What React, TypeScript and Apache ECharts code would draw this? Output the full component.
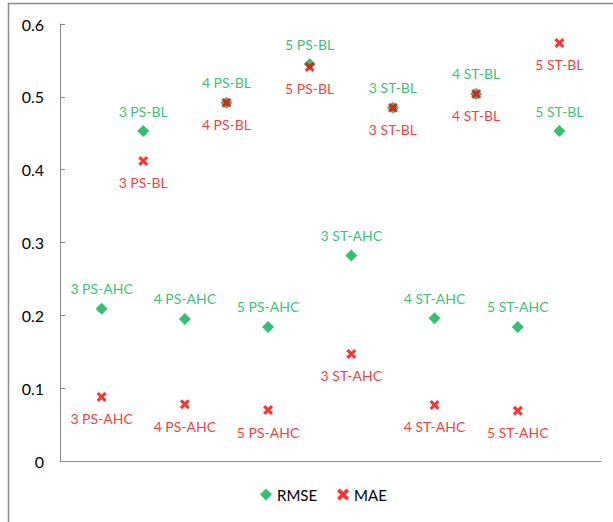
import React, { useEffect, useRef } from "react";
import * as echarts from "echarts";

const categories = [
  "3 PS-AHC", "3 PS-BL", "4 PS-AHC", "4 PS-BL", "5 PS-AHC", "5 PS-BL",
  "3 ST-AHC", "3 ST-BL", "4 ST-AHC", "4 ST-BL", "5 ST-AHC", "5 ST-BL",
];
const rmse = [0.209, 0.453, 0.195, 0.492, 0.184, 0.545, 0.282, 0.485, 0.196, 0.504, 0.184, 0.453];
const mae = [0.088, 0.412, 0.078, 0.492, 0.070, 0.541, 0.147, 0.485, 0.077, 0.504, 0.069, 0.574];
const yTicks = [0, 0.1, 0.2, 0.3, 0.4, 0.5, 0.6];

const CROSS = "path://M0,2.2 L2.2,0 L5,2.8 L7.8,0 L10,2.2 L7.2,5 L10,7.8 L7.8,10 L5,7.2 L2.2,10 L0,7.8 L2.8,5 Z";
const FONT = "Lato, 'Open Sans', sans-serif";

export default function App() {
  const ref = useRef<HTMLDivElement>(null);
  useEffect(() => {
    document.body.style.margin = "0";
    const chart = echarts.init(ref.current!, null, { renderer: "svg" });
    const mk = (vals: number[]) => vals.map((v, i) => [i + 1, v, categories[i]]);
    chart.setOption({
      animation: false,
      backgroundColor: "#fff",
      textStyle: { fontFamily: FONT },
      graphic: [
        {
          type: "rect",
          shape: { x: 8.5, y: 3.5, width: 700, height: 600 },
          style: { fill: "none", stroke: "#8c8c8c", lineWidth: 1.5 },
          silent: true,
        },
      ],
      grid: { left: 60, right: 12, top: 24, bottom: 61 },
      xAxis: {
        type: "value",
        min: 0,
        max: 13,
        axisLine: { show: true, onZero: false, lineStyle: { color: "#888", width: 1 } },
        axisTick: { show: false },
        axisLabel: { show: false },
        splitLine: { show: false },
      },
      yAxis: {
        type: "value",
        min: yTicks[0],
        max: yTicks[yTicks.length - 1],
        interval: 0.1,
        axisLine: { show: true, lineStyle: { color: "#888", width: 1 } },
        axisTick: { show: true, inside: true, length: 5, lineStyle: { color: "#888" } },
        axisLabel: {
          color: "#000",
          fontSize: 16,
          fontFamily: FONT,
          margin: 16,
          formatter: (v: number) => (v === 0 ? "0" : v.toFixed(1)),
        },
        splitLine: { show: false },
      },
      legend: {
        bottom: 15,
        left: 255,
        itemWidth: 12,
        itemHeight: 12,
        itemGap: 20,
        textStyle: { color: "#000", fontSize: 15, fontFamily: FONT },
        data: [
          { name: "RMSE", icon: "diamond" },
          { name: "MAE", icon: CROSS },
        ],
      },
      series: [
        {
          name: "RMSE",
          type: "scatter",
          symbol: "diamond",
          symbolSize: 12,
          itemStyle: { color: "#00B050" },
          data: mk(rmse),
          label: {
            show: true,
            position: "top",
            distance: 7,
            color: "#00B050",
            fontSize: 14,
            fontFamily: FONT,
            formatter: (p: any) => p.value[2],
          },
        },
        {
          name: "MAE",
          type: "scatter",
          symbol: CROSS,
          symbolSize: 10,
          itemStyle: { color: "#FF0000" },
          data: mk(mae),
          label: {
            show: true,
            position: "bottom",
            distance: 10,
            color: "#FF0000",
            fontSize: 14,
            fontFamily: FONT,
            formatter: (p: any) => p.value[2],
          },
        },
      ],
    });
    return () => chart.dispose();
  }, []);
  return <div ref={ref} style={{ width: 613, height: 522 }} />;
}
